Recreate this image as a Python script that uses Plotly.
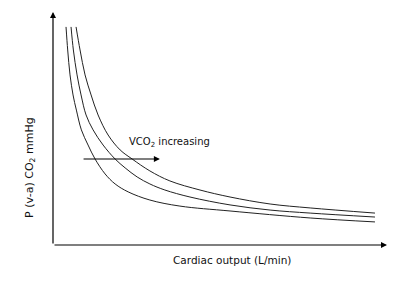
import plotly.graph_objects as go

# Cardiac output (arbitrary units, 0-10) and P(v-a)CO2 (arbitrary units, 0-10)
co_high = [0.69, 0.81, 0.96, 1.14, 1.35, 1.65, 2.01, 2.37, 2.90, 3.50, 4.40, 5.30, 6.50, 7.70, 9.64]
p_high = [9.36, 8.37, 7.30, 6.44, 5.58, 4.72, 4.08, 3.69, 3.18, 2.75, 2.36, 2.06, 1.76, 1.59, 1.37]

co_mid = [0.54, 0.61, 0.72, 0.84, 0.99, 1.20, 1.50, 1.86, 2.16, 2.52, 2.90, 3.35, 4.10, 5.30, 6.50, 7.70, 9.64]
p_mid = [9.36, 8.37, 7.30, 6.44, 5.58, 4.94, 4.29, 3.69, 3.31, 2.92, 2.62, 2.36, 2.06, 1.72, 1.50, 1.37, 1.20]

co_low = [0.39, 0.44, 0.51, 0.60, 0.70, 0.85, 1.05, 1.26, 1.56, 1.86, 2.25, 2.90, 3.80, 5.30, 7.70, 9.64]
p_low = [9.36, 8.37, 7.30, 6.44, 5.79, 4.94, 4.29, 3.69, 3.05, 2.62, 2.28, 1.93, 1.67, 1.46, 1.16, 0.99]

x_label = "Cardiac output (L/min)"
y_label = "P (v-a) CO<sub>2</sub> mmHg"
arrow_label = "VCO<sub>2</sub> increasing"
arrow_start = (0.87, 3.69)
arrow_end = (3.20, 3.69)

FONT = "DejaVu Sans"
fig = go.Figure()
for xs, ys in [(co_high, p_high), (co_mid, p_mid), (co_low, p_low)]:
    fig.add_trace(go.Scatter(x=xs, y=ys, mode="lines",
                             line=dict(color="#222222", width=1, shape="spline", smoothing=1.0),
                             showlegend=False, hoverinfo="skip"))

ann = []
# axes with arrowheads
ann.append(dict(x=10.0, y=0, ax=0, ay=0, xref="x", yref="y", axref="x", ayref="y", text="",
                showarrow=True, arrowhead=2, arrowsize=1, arrowwidth=1.2, arrowcolor="#000"))
ann.append(dict(x=0, y=10.0, ax=0, ay=0, xref="x", yref="y", axref="x", ayref="y", text="",
                showarrow=True, arrowhead=2, arrowsize=1, arrowwidth=1.2, arrowcolor="#000"))
# VCO2 arrow
ann.append(dict(x=arrow_end[0], y=arrow_end[1], ax=arrow_start[0], ay=arrow_start[1], xref="x", yref="y",
                axref="x", ayref="y", text="", showarrow=True, arrowhead=2, arrowsize=1, arrowwidth=1.2,
                arrowcolor="#000"))
ann.append(dict(x=3.50, y=4.38, xref="x", yref="y", text=arrow_label, showarrow=False,
                font=dict(family=FONT, size=10, color="#111")))
ann.append(dict(x=0.536, y=-0.064, xref="paper", yref="paper", text=x_label, showarrow=False,
                xanchor="center", yanchor="middle", font=dict(family=FONT, size=10.5, color="#111")))
ann.append(dict(x=-0.069, y=0.335, xref="paper", yref="paper", text=y_label, showarrow=False,
                textangle=-90, xanchor="center", yanchor="middle",
                font=dict(family=FONT, size=11, color="#111")))

fig.update_layout(
    width=396, height=274,
    margin=dict(l=45, r=17, t=4, b=37),
    paper_bgcolor="white", plot_bgcolor="white",
    xaxis=dict(range=[0, 10], showgrid=False, zeroline=False, showticklabels=False, ticks="", showline=False),
    yaxis=dict(range=[0, 10], showgrid=False, zeroline=False, showticklabels=False, ticks="", showline=False),
    annotations=ann,
)
fig.write_html("out.html")
